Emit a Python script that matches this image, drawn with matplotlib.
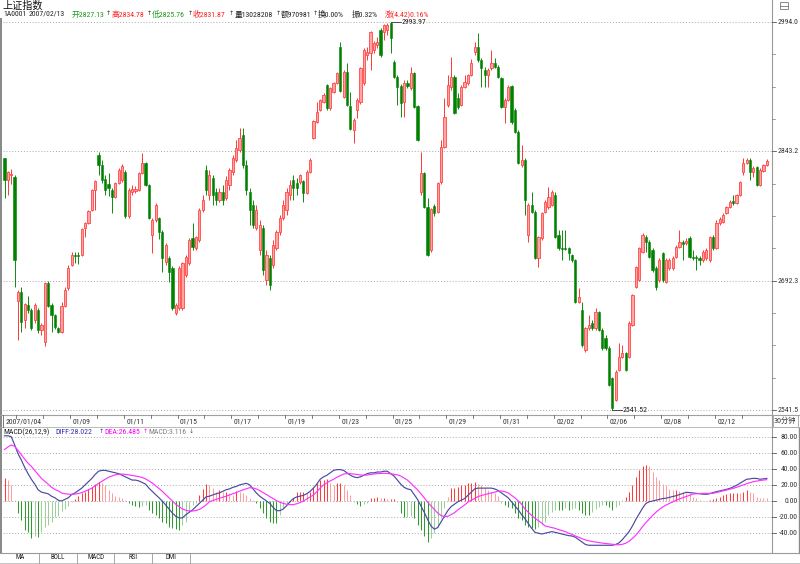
import matplotlib
matplotlib.use("Agg")
import matplotlib.pyplot as plt
from matplotlib import font_manager as fm
from matplotlib.ft2font import FT2Font
from matplotlib.lines import Line2D
from matplotlib.patches import Rectangle
from matplotlib.collections import LineCollection
from matplotlib.transforms import blended_transform_factory
import numpy as np

# ---------------- data ----------------
trading_days = ["01/04", "01/05", "01/08", "01/09", "01/10", "01/11", "01/12", "01/15", "01/16",
                "01/17", "01/18", "01/19", "01/22", "01/23", "01/24", "01/25", "01/26", "01/29",
                "01/30", "01/31", "02/01", "02/02", "02/05", "02/06", "02/07", "02/08", "02/09",
                "02/12", "02/13"]
bars_per_day = [4] + [8] * 28
labeled_days = ["01/09", "01/11", "01/15", "01/17", "01/19", "01/23", "01/25", "01/29",
                "01/31", "02/02", "02/06", "02/08", "02/12"]

opens = [2835, 2810, 2815, 2813, 2669, 2679, 2646, 2664, 2658, 2646,
         2658, 2635, 2621, 2690, 2664, 2652, 2637, 2632, 2663, 2684,
         2711, 2722, 2722, 2722, 2754, 2760, 2775, 2798, 2839, 2827,
         2811, 2805, 2798, 2790, 2806, 2810, 2819, 2768, 2796, 2797,
         2798, 2818, 2830, 2804, 2745, 2763, 2765, 2749, 2714, 2719,
         2707, 2655, 2660, 2660, 2699, 2713, 2742, 2730, 2740, 2775,
         2821, 2792, 2812, 2796, 2786, 2796, 2789, 2804, 2819, 2833,
         2845, 2862, 2827, 2796, 2781, 2754, 2728, 2754, 2693, 2719,
         2711, 2730, 2749, 2765, 2775, 2792, 2810, 2806, 2807, 2809,
         2795, 2819, 2859, 2877, 2891, 2901, 2920, 2894, 2912, 2923,
         2965, 2906, 2936, 2896, 2868, 2891, 2901, 2923, 2955, 2958,
         2961, 2967, 2985, 2982, 2985, 2993, 2947, 2930, 2919, 2901,
         2923, 2917, 2934, 2896, 2796, 2818, 2778, 2728, 2779, 2772,
         2807, 2848, 2897, 2918, 2930, 2905, 2897, 2918, 2923, 2932,
         2959, 2965, 2950, 2938, 2932, 2940, 2946, 2941, 2929, 2895,
         2903, 2919, 2891, 2866, 2827, 2833, 2745, 2781, 2772, 2719,
         2742, 2772, 2778, 2781, 2792, 2745, 2730, 2730, 2730, 2722,
         2716, 2667, 2658, 2611, 2637, 2643, 2637, 2656, 2635, 2625,
         2614, 2579, 2553, 2588, 2603, 2608, 2603, 2641, 2685, 2693,
         2726, 2743, 2737, 2728, 2707, 2693, 2725, 2691, 2707, 2707,
         2720, 2732, 2737, 2736, 2742, 2720, 2720, 2719, 2716, 2719,
         2716, 2743, 2730, 2760, 2761, 2771, 2778, 2785, 2783, 2792,
         2819, 2830, 2833, 2819, 2825, 2804, 2820, 2827.13]
highs = [2835, 2820, 2822, 2815, 2681, 2685, 2666, 2674, 2660, 2666,
         2660, 2643, 2691, 2692, 2666, 2653, 2638, 2667, 2685, 2711,
         2726, 2726, 2726, 2754, 2761, 2775, 2799, 2810, 2842, 2833,
         2815, 2818, 2800, 2807, 2824, 2828, 2821, 2800, 2804, 2803,
         2819, 2841, 2831, 2805, 2765, 2783, 2767, 2751, 2736, 2721,
         2709, 2666, 2709, 2714, 2722, 2742, 2760, 2744, 2777, 2792,
         2827, 2821, 2815, 2800, 2800, 2804, 2814, 2824, 2839, 2856,
         2870, 2870, 2833, 2800, 2786, 2781, 2763, 2757, 2728, 2722,
         2740, 2751, 2769, 2786, 2800, 2810, 2815, 2812, 2817, 2810,
         2821, 2835, 2880, 2901, 2904, 2911, 2922, 2918, 2924, 2936,
         2971, 2938, 2946, 2912, 2882, 2905, 2942, 2964, 2965, 2983,
         2972, 2976, 2987, 2992, 2993, 2993.97, 2950, 2932, 2922, 2926,
         2926, 2941, 2936, 2897, 2842, 2819, 2789, 2777, 2782, 2807,
         2856, 2905, 2932, 2953, 2932, 2911, 2920, 2932, 2933, 2951,
         2971, 2981, 2952, 2941, 2940, 2961, 2952, 2944, 2930, 2905,
         2920, 2920, 2894, 2868, 2850, 2835, 2783, 2796, 2775, 2744,
         2772, 2786, 2801, 2798, 2796, 2751, 2751, 2751, 2732, 2723,
         2718, 2684, 2667, 2638, 2652, 2646, 2660, 2657, 2637, 2629,
         2616, 2580, 2588, 2620, 2617, 2609, 2645, 2677, 2709, 2732,
         2748, 2746, 2740, 2730, 2709, 2719, 2726, 2719, 2719, 2721,
         2734, 2751, 2740, 2742, 2744, 2728, 2722, 2721, 2728, 2730,
         2744, 2746, 2763, 2767, 2771, 2779, 2786, 2792, 2793, 2809,
         2835, 2835, 2835, 2826, 2826, 2824, 2828, 2834.78]
lows = [2789, 2792, 2805, 2685, 2623, 2632, 2637, 2655, 2635, 2643,
        2631, 2629, 2616, 2662, 2632, 2636, 2631, 2631, 2662, 2681,
        2709, 2713, 2712, 2721, 2743, 2758, 2774, 2775, 2815, 2806,
        2792, 2791, 2771, 2789, 2805, 2807, 2765, 2765, 2792, 2795,
        2797, 2817, 2803, 2764, 2725, 2761, 2741, 2702, 2711, 2691,
        2658, 2652, 2658, 2658, 2697, 2711, 2728, 2728, 2737, 2772,
        2792, 2786, 2781, 2781, 2784, 2781, 2786, 2798, 2815, 2831,
        2842, 2824, 2792, 2757, 2754, 2751, 2722, 2699, 2687, 2681,
        2707, 2728, 2746, 2763, 2769, 2786, 2786, 2792, 2805, 2784,
        2793, 2818, 2858, 2876, 2890, 2899, 2891, 2891, 2911, 2922,
        2912, 2905, 2896, 2868, 2853, 2882, 2898, 2920, 2950, 2938,
        2958, 2964, 2953, 2973, 2979, 2958, 2929, 2897, 2883, 2883,
        2917, 2915, 2894, 2855, 2792, 2777, 2721, 2726, 2768, 2771,
        2805, 2847, 2895, 2915, 2887, 2892, 2896, 2917, 2920, 2931,
        2955, 2947, 2918, 2918, 2918, 2938, 2940, 2929, 2894, 2876,
        2902, 2875, 2864, 2828, 2825, 2769, 2737, 2771, 2718, 2708,
        2740, 2771, 2776, 2779, 2742, 2728, 2716, 2728, 2716, 2714,
        2666, 2666, 2615, 2609, 2635, 2635, 2635, 2634, 2611, 2611,
        2569, 2541.52, 2552, 2587, 2602, 2587, 2602, 2639, 2684, 2692,
        2725, 2726, 2719, 2702, 2681, 2691, 2691, 2690, 2705, 2705,
        2719, 2730, 2716, 2734, 2719, 2716, 2705, 2711, 2714, 2716,
        2714, 2728, 2729, 2757, 2759, 2770, 2777, 2781, 2782, 2791,
        2815, 2828, 2810, 2813, 2803, 2803, 2819, 2825.76]
closes = [2810, 2819, 2817, 2716, 2679, 2644, 2665, 2658, 2637, 2664,
          2635, 2641, 2690, 2663, 2652, 2638, 2632, 2663, 2681, 2707,
          2722, 2721, 2721, 2753, 2760, 2774, 2798, 2809, 2827, 2810,
          2798, 2800, 2790, 2806, 2821, 2826, 2768, 2798, 2799, 2799,
          2818, 2830, 2804, 2765, 2763, 2781, 2749, 2719, 2734, 2702,
          2660, 2664, 2707, 2713, 2720, 2740, 2732, 2743, 2775, 2786,
          2798, 2815, 2792, 2786, 2796, 2786, 2810, 2821, 2835, 2847,
          2859, 2827, 2798, 2775, 2757, 2775, 2757, 2705, 2722, 2687,
          2734, 2749, 2765, 2781, 2796, 2804, 2800, 2800, 2815, 2795,
          2819, 2833, 2878, 2889, 2903, 2909, 2894, 2917, 2923, 2934,
          2913, 2936, 2897, 2869, 2880, 2903, 2940, 2961, 2959, 2982,
          2969, 2971, 2955, 2990, 2990, 2975, 2930, 2918, 2899, 2923,
          2919, 2934, 2895, 2856, 2818, 2778, 2722, 2776, 2771, 2806,
          2848, 2883, 2920, 2930, 2888, 2895, 2918, 2924, 2932, 2946,
          2965, 2950, 2940, 2932, 2938, 2946, 2941, 2930, 2895, 2903,
          2918, 2877, 2866, 2829, 2833, 2786, 2781, 2772, 2719, 2743,
          2771, 2784, 2790, 2796, 2743, 2730, 2729, 2729, 2725, 2716,
          2667, 2673, 2617, 2637, 2641, 2637, 2656, 2635, 2614, 2614,
          2571, 2544, 2586, 2603, 2608, 2588, 2643, 2676, 2708, 2730,
          2746, 2737, 2720, 2705, 2685, 2716, 2693, 2716, 2716, 2719,
          2732, 2737, 2735, 2739, 2720, 2719, 2719, 2716, 2726, 2728,
          2743, 2730, 2760, 2764, 2769, 2778, 2784, 2783, 2792, 2807,
          2830, 2833, 2819, 2824, 2804, 2821, 2827, 2831.87]

diff_vals = [81, 81, 80, 70, 59, 51, 42, 34, 27, 21,
             14, 11, 10, 9, 6, 4, 1, 0, 2, 4,
             8, 10, 13, 16, 20, 24, 28, 33, 37, 38,
             38, 37, 36, 35, 34, 32, 30, 28, 26, 26,
             25, 23, 21, 16, 12, 8, 4, 0, -5, -10,
             -15, -19, -21, -21, -17, -14, -11, -7, -3, 1,
             5, 6, 7.5, 9, 10, 12, 14, 15, 17, 18,
             20, 21, 22, 20, 15, 10, 6, 3, 0, -3,
             -8, -12, -12, -10, -6, -1, 3, 5, 6, 7,
             9, 12, 16, 21, 27, 30, 32, 35, 38, 39,
             39, 38, 35, 32, 30, 29, 30, 32, 34, 35,
             35, 36, 36, 37, 37, 34, 31, 26, 21, 17,
             15, 14, 8, 2, -6, -14, -23, -31, -35, -33,
             -26, -19, -12, -7, -4, -1, 1, 3, 7, 11,
             15, 16, 16, 16, 16, 16, 15, 13, 10, 7,
             4, -1, -6, -11, -17, -22, -28, -34, -39, -40,
             -41, -40, -39, -38, -39, -40, -41, -42, -43, -43.5,
             -45, -48, -51, -54, -55, -55, -55, -55, -55, -55,
             -55, -55, -54, -52, -48, -43, -38, -31, -23, -16,
             -9, -3, -1, 0, 1, 2, 3, 3.5, 4.5, 5.5,
             6.6, 8, 9.5, 10.8, 10.5, 10, 9.5, 9, 8.5, 8.3,
             9, 10.5, 11.6, 12.5, 13.5, 14.5, 15.7, 17.5, 19.5, 22,
             24.5, 27, 27.5, 28.2, 28, 27, 27.5, 28.022]
dea_vals = [64, 67, 69.6, 68, 63, 57.5, 52, 47, 43, 38,
            33, 28, 24.5, 21, 17, 14.5, 12.5, 10, 9, 8.5,
            8.3, 8.6, 9.2, 10.5, 12, 14, 16, 19, 21.8, 24.5,
            27, 29.5, 31, 32.5, 33.3, 33.5, 33, 32.5, 31.8, 31,
            30.2, 29.2, 27.5, 25, 22.3, 19, 15.5, 12, 8, 4,
            0, -4, -7, -10, -11.5, -12.4, -12.5, -11.8, -10.5, -8,
            -5, -1, 0.5, 2, 3.3, 4.5, 6, 7.5, 9, 10.5,
            12.2, 13.8, 15.2, 16.5, 16.3, 15, 13, 10.5, 8, 5.5,
            3, 0.5, -1.5, -3, -4, -4.6, -4.5, -3.5, -2, 0,
            2.5, 5, 7.5, 11.5, 16, 20, 22.5, 25, 27, 29.5,
            31.5, 33.5, 34, 34, 33.5, 33, 32.3, 32, 32.3, 33,
            33.5, 34, 34.2, 34.4, 34.2, 33.8, 33.2, 32.5, 31, 28.5,
            26, 22, 18, 14, 9, 4, -1.5, -6, -10.5, -15,
            -18, -19.5, -19, -17, -14.5, -11, -8, -5, -1.5, 1,
            3, 5.5, 6.8, 8, 9, 10, 11, 12.2, 12.4, 11.6,
            10, 7, 4, 0, -4, -10, -14, -18, -21.5, -24.5,
            -27.5, -31, -32, -33, -34, -35.5, -36.8, -38, -40, -41.5,
            -43.5, -45, -46.8, -48.4, -49.5, -50.3, -51, -51.7, -52.3, -52.8,
            -53.3, -53.8, -54.2, -54.4, -53.8, -52.5, -50, -46.5, -42.5, -37.5,
            -32, -27, -22.5, -18, -14, -10.5, -7.5, -5, -3, -1.2,
            1, 2.6, 4.1, 5.5, 7, 8.7, 9, 9.3, 9.5, 9.5,
            9.5, 9.5, 10.5, 11.5, 12.4, 13.5, 14.6, 15.7, 17, 18.5,
            20, 21.5, 22.8, 24, 24.8, 25.5, 26, 26.485]
macd_vals = [28, 26, 20, 1, -15.3, -23.6, -36, -38, -46, -44,
             -45, -39, -32, -30, -26, -20, -18.6, -13, -10, -6,
             -1, 3, 6, 9.5, 11.6, 14.5, 17.8, 21, 23, 22,
             20, 13.7, 10.4, 6.2, 5.4, 3.3, 1.2, -2.9, -5, -6.2,
             -7.9, -6.2, -5, -11, -15.3, -17.4, -21.5, -25.7, -27.7, -32,
             -34, -35, -36, -30, -25.7, -13.3, -5, -2, 7.5, 14.5,
             21, 20, 15.7, 11.6, 13.7, 11.6, 11.6, 9.5, 7.5, 12.8,
             11.6, 9.5, 7.5, 3.3, 1.2, -2.9, -9, -15.3, -21.5, -25.7,
             -27, -27.7, -17.4, -9, -3.7, -1, 3.3, 11.6, 11.6, 11.6,
             9.5, 11.6, 17.8, 22, 26, 26, 27, 22.8, 20, 22,
             22, 20, 13.7, 7.5, -1, -3.7, -6.2, -3.7, -2, 3.3,
             3.3, 4.5, 3.3, 3.3, 2, 2, 2, -1, -15, -20,
             -19.5, -18.6, -21.5, -30, -36, -43.5, -50.5, -46, -40, -32,
             -21.5, -9, 5.4, 15.7, 15.7, 17.8, 20, 20, 22, 22,
             24, 20.7, 20, 15.7, 13.7, 11.6, 9.5, 6.2, -2, -5,
             -7, -9, -15.3, -21.5, -23.6, -30, -32, -34, -35, -32,
             -30, -25.7, -17.4, -13.3, -11.2, -11.2, -11.2, -9, -11.2, -10.4,
             -9, -11.2, -15.3, -17.4, -17.4, -13.3, -10.4, -7.9, -5, -5,
             -7, -11.2, -7.9, -5, 1.2, 5.4, 11.6, 20, 30, 38.5,
             43.5, 44.7, 43.5, 36.4, 30, 26, 21, 20, 14.5, 13.7,
             13.7, 12.4, 11.6, 10.4, 9.5, 5.4, 3.3, 1.2, 0.4, 0.4,
             1.2, 2, 3.3, 5.4, 7.5, 8.7, 9.5, 9.5, 10.4, 9.5,
             11.6, 13.7, 11.6, 9.5, 5.4, 4.1, 3.3, 3.116]

price_levels = [2994.0, 2843.2, 2692.3, 2541.5]
macd_levels = [80, 60, 40, 20, 0, -20, -40]
tab_names = ["MA", "BOLL", "MACD", "RSI", "DMI"]

# ---------------- fonts ----------------
def font_file(family, stretch="normal"):
    try:
        return fm.findfont(fm.FontProperties(family=family, stretch=stretch),
                           fallback_to_default=False)
    except Exception:
        return None

NUMFONT, NS, STRETCH, NUMFILE = "Liberation Sans", 5.0, "normal", font_file("Liberation Sans")
for fam, size in [("Liberation Sans Narrow", 6.0), ("Roboto Condensed", 5.6),
                  ("Open Sans Condensed", 5.8), ("Noto Sans Condensed", 5.6)]:
    f = font_file(fam)
    if f:
        NUMFONT, NS, NUMFILE = fam, size, f
        break
else:
    for fam, size in [("DejaVu Sans", 5.0), ("Noto Sans", 5.6), ("Roboto", 5.6), ("Open Sans", 5.6)]:
        f = font_file(fam, "condensed")
        if f and ("ondensed" in f or "arrow" in f):
            NUMFONT, NS, STRETCH, NUMFILE = fam, size, "condensed", f
            break
FAM = [NUMFONT, "Noto Sans CJK SC", "DejaVu Sans"]
CJK = ["Noto Sans CJK SC", "DejaVu Sans"]
TK = dict(family=FAM, fontsize=NS, fontstretch=STRETCH)

def has_glyph(path, ch):
    try:
        return FT2Font(path).get_char_index(ord(ch)) != 0
    except Exception:
        return False

if NUMFILE and has_glyph(NUMFILE, "↑") and has_glyph(NUMFILE, "↓"):
    ARROW = dict(family=[NUMFONT], fontsize=NS, fontstretch=STRETCH)
else:
    ARROW = dict(family=["DejaVu Sans"], fontsize=4.4)

# ---------------- figure ----------------
W, H = 800, 564
fig = plt.figure(figsize=(W / 100, H / 100), dpi=100)
fig.patch.set_facecolor("white")

def fx(px):
    return px / W

def fy(py):
    return 1 - py / H

def fline(x0, y0, x1, y1, **kw):
    fig.add_artist(Line2D([fx(x0), fx(x1)], [fy(y0), fy(y1)], transform=fig.transFigure, **kw))

def ftext(px, py, s, **kw):
    fig.text(fx(px), fy(py), s, **kw)

PLOT_L, PLOT_R = 3.0, 772.0
X0_PX, STEP_PX = 4.5, 3.358
xmin = -(X0_PX - PLOT_L) / STEP_PX
xmax = xmin + (PLOT_R - PLOT_L) / STEP_PX

MAIN_T, MAIN_B = 20.0, 413.0
ax = fig.add_axes([fx(PLOT_L), fy(MAIN_B), (PLOT_R - PLOT_L) / W, (MAIN_B - MAIN_T) / H])
ax.set_xlim(xmin, xmax)
ax.set_ylim(2538.0, 2996.3)
ax.axis("off")

MACD_T, MACD_B = 428.0, 551.0
axm = fig.add_axes([fx(PLOT_L), fy(MACD_B), (PLOT_R - PLOT_L) / W, (MACD_B - MACD_T) / H])
axm.set_xlim(xmin, xmax)
axm.set_ylim((501 - MACD_B) / 0.805, (501 - MACD_T) / 0.805)
axm.axis("off")

GRID = dict(color="#a9a9a9", lw=0.7, ls=(0, (1, 2)))
for v in price_levels:
    ax.axhline(v, **GRID, zorder=0)
for v in macd_levels:
    axm.axhline(v, **GRID, zorder=0)

# ---------------- candles ----------------
RED, RED_FILL, GREEN = "#ff2a2a", "#ffa3a3", "#008200"
n = len(closes)
xs = np.arange(n)
o = np.array(opens, float)
c = np.array(closes, float)
hh = np.array(highs, float)
ll = np.array(lows, float)
up = c >= o
top = np.maximum(o, c)
bot = np.minimum(o, c)

segs_r, segs_g = [], []
for i in range(n):
    if up[i]:
        segs_r.append([(i, min(ll[i], bot[i])), (i, bot[i])])
        segs_r.append([(i, top[i]), (i, max(hh[i], top[i]))])
    else:
        segs_g.append([(i, min(ll[i], bot[i])), (i, max(hh[i], top[i]))])
ax.add_collection(LineCollection(segs_r, colors=RED, linewidths=0.65, zorder=2))
ax.add_collection(LineCollection(segs_g, colors=GREEN, linewidths=0.65, zorder=2))

BW = 0.66
ax.bar(xs[up], (c - o)[up], bottom=o[up], width=BW, facecolor=RED_FILL,
       edgecolor=RED, linewidth=0.5, zorder=3)
ax.bar(xs[~up], (c - o)[~up], bottom=o[~up], width=BW, facecolor=GREEN,
       edgecolor=GREEN, linewidth=0.4, zorder=3)

# extreme annotations
i_max = int(np.argmax(hh))
i_min = int(np.argmin(ll))
ax.plot([i_max, i_max + 3.0], [hh[i_max], hh[i_max]], color="#333333", lw=0.6, zorder=4)
ax.text(i_max + 3.1, hh[i_max], "%.2f" % hh[i_max], **TK, color="#222222", va="center", ha="left")
ax.plot([i_min, i_min + 3.0], [ll[i_min], ll[i_min]], color="#333333", lw=0.6, zorder=4)
ax.text(i_min + 3.1, ll[i_min], "%.2f" % ll[i_min], **TK, color="#222222", va="center", ha="left")

# ---------------- MACD ----------------
mv = np.array(macd_vals, float)
cols = []
for i in range(n):
    grow = i == 0 or abs(mv[i]) >= abs(mv[i - 1])
    if mv[i] >= 0:
        cols.append("#ff3b3b" if grow else "#ff9e9e")
    else:
        cols.append("#2f9a2f" if grow else "#9ccf9c")
axm.vlines(xs, 0, mv, colors=cols, linewidth=0.75, zorder=2)
axm.plot(xs, diff_vals, color="#4a4aa0", lw=0.85, zorder=3)
axm.plot(xs, dea_vals, color="#ff33ff", lw=0.85, zorder=3)

# ---------------- right axis ----------------
AXC = "#9a9a9a"
fline(772, 0, 772, 553, color=AXC, lw=0.8)
tr_main = blended_transform_factory(fig.transFigure, ax.transData)
tr_macd = blended_transform_factory(fig.transFigure, axm.transData)
for k, v in enumerate(price_levels):
    fig.add_artist(Line2D([fx(772), fx(776)], [v, v], transform=tr_main, color="#555555", lw=0.6))
    fig.text(fx(798.5), v, "%.1f" % v, transform=tr_main, **TK,
             color="#333333", ha="right", va="center")
    if k + 1 < len(price_levels):
        nxt = price_levels[k + 1]
        for q in (1, 2, 3):
            vv = v + (nxt - v) * q / 4
            fig.add_artist(Line2D([fx(772), fx(775)], [vv, vv], transform=tr_main,
                                  color="#777777", lw=0.5))
for v in macd_levels:
    fig.add_artist(Line2D([fx(772), fx(775.5)], [v, v], transform=tr_macd, color="#555555", lw=0.6))
    fig.text(fx(797.5), v, "%.2f" % v, transform=tr_macd, **TK,
             color="#333333", ha="right", va="center")

# ---------------- date strip ----------------
fline(0, 415, 800, 415, color="#a0a0a0", lw=0.8)
fline(0, 426.5, 800, 426.5, color="#b0b0b0", lw=0.6)
tr_date = blended_transform_factory(ax.transData, fig.transFigure)
starts = np.concatenate([[0], np.cumsum(bars_per_day)[:-1]])
for d, s in zip(trading_days, starts):
    if s == 0:
        continue
    fig.add_artist(Line2D([s - 0.45, s - 0.45], [fy(415), fy(418)], transform=tr_date,
                          color="#666666", lw=0.6))
    if d in labeled_days:
        fig.text(s + 0.3, fy(421.5), d, transform=tr_date, **TK,
                 color="#333333", ha="left", va="center")
fline(3.3, 415, 3.3, 426.5, color="#666666", lw=0.6)
fig.text(0.4, fy(421.5), "2007/" + trading_days[0], transform=tr_date, **TK,
         color="#333333", ha="left", va="center")
fig.add_artist(Rectangle((fx(773), fy(427)), 25 / W, 12 / H, transform=fig.transFigure,
                         facecolor="white", edgecolor="#a0a0a0", lw=0.6))
ftext(785.5, 421, "30分钟", family=CJK, fontsize=5.2, color="#333333", ha="center", va="center")

# ---------------- header ----------------
ftext(2, 5.5, "上证指数", family=CJK, fontsize=7.3, color="#111111", ha="left", va="center")
RTXT, GTXT, KTXT = "#ff2020", "#1a9a1a", "#222222"
info = [("1A0001", 3, KTXT), ("2007/02/13", 29, KTXT), ("开2827.13", 72, GTXT),
        ("高2834.78", 112, RTXT), ("低2825.76", 152, GTXT),
        ("收2831.87", 193, RTXT), ("量13028208", 235, KTXT),
        ("额970981", 281, KTXT), ("换0.00%", 318, KTXT), ("振0.32%", 352, KTXT),
        ("涨(4.42)0.16%", 385, RTXT)]
for s, px, col in info:
    ftext(px, 14, s, **TK, color=col, ha="left", va="center")
for px in [108.7, 149.3, 190.0, 231.0, 277.8, 315.0]:
    ftext(px, 13.5, "↑", **ARROW, color=KTXT, ha="center", va="center")

macd_head = [("MACD(26,12,9)", 3, "#222222"), ("DIFF:28.022", 55, "#3030b0"),
             ("DEA:26.485", 104, "#ff00ff"), ("MACD:3.116", 148, "#808080")]
for s, px, col in macd_head:
    ftext(px, 432, s, **TK, color=col, ha="left", va="center")
for s, px, col in [("↑", 100.8, "#3030b0"), ("↑", 145.2, "#ff00ff"), ("↓", 190.8, "#555555")]:
    ftext(px, 431.5, s, **ARROW, color=col, ha="center", va="center")

# icon top-right
fig.add_artist(Rectangle((fx(780), fy(9)), 8 / W, 7 / H, transform=fig.transFigure,
                         facecolor="white", edgecolor="#777777", lw=0.6))
fline(780, 5.5, 788, 5.5, color="#777777", lw=0.6)

# ---------------- frame & tabs ----------------
fig.add_artist(Rectangle((0, fy(553)), fx(2.2), (553 - 18) / H, transform=fig.transFigure,
                         facecolor="#8a8a8a", edgecolor="none"))
fline(798.5, 428, 798.5, 553, color="#8a8a8a", lw=1.0)
fline(0, 553, 800, 553, color="#9a9a9a", lw=0.8)
fig.add_artist(Rectangle((0, 0), 1, (564 - 562.5) / H, transform=fig.transFigure,
                         facecolor="#e6e6e6", edgecolor="none"))
fline(0, 562.5, 800, 562.5, color="#c0c0c0", lw=0.6)
tab_w = 37.6
for k, name in enumerate(tab_names):
    x_right = 1.5 + tab_w * (k + 1)
    fline(x_right, 553, x_right, 562.5, color="#9a9a9a", lw=0.6)
    ftext(x_right - tab_w / 2, 557.8, name, family=FAM, fontsize=NS - 0.6,
          fontstretch=STRETCH, color="#222222", ha="center", va="center")

fig.savefig("out.png", dpi=100, facecolor="white")
